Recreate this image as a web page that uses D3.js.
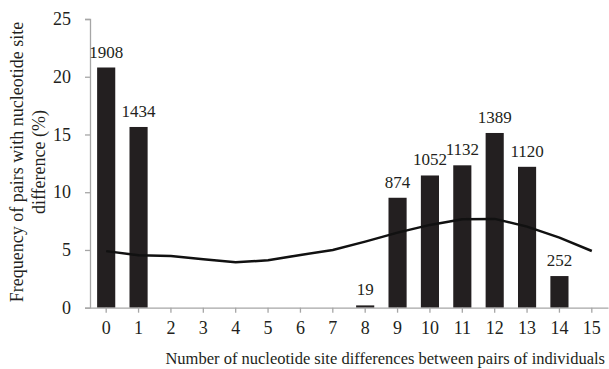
<!DOCTYPE html>
<html>
<head>
<meta charset="utf-8">
<script src="https://cdn.jsdelivr.net/npm/d3@7"></script>
<style>
  html, body { margin: 0; padding: 0; background: #fff; }
  text { font-family: "Liberation Serif", "Times New Roman", serif; fill: #231f20; }
</style>
</head>
<body>
<div id="chart"></div>
<script>
// number of nucleotide site differences
const categories = d3.range(0, 16);
const observed = [20.8, 15.65, 0, 0, 0, 0, 0, 0, 0.2, 9.52, 11.45, 12.33, 15.13, 12.2, 2.74, 0];
// pair counts printed above bars ("" = no label)
const counts = ["1908", "1434", "", "", "", "", "", "", "19", "874", "1052", "1132", "1389", "1120", "252", ""];
// expected frequency (%) line
const expected = [4.9, 4.54, 4.48, 4.2, 3.93, 4.1, 4.57, 5.0, 5.72, 6.5, 7.17, 7.66, 7.69, 7.02, 6.07, 4.91];
const yTicks = [0, 5, 10, 15, 20, 25];

const width = 609, height = 369;
const margin = {top: 19, right: 1, bottom: 61, left: 90};

const svg = d3.select("#chart")
  .append("svg")
  .attr("width", width)
  .attr("height", height);

const x = d3.scaleBand()
  .domain(categories)
  .range([margin.left, width - margin.right])
  .paddingInner(0.44)
  .paddingOuter(0.22);

const y = d3.scaleLinear().domain([0, 25]).range([height - margin.bottom - 0.3, margin.top]);

// shrink font until text fits the width seen in the picture
function fitText(sel, w, start) {
  let fs = start;
  sel.style("font-size", fs + "px");
  while (sel.node().getComputedTextLength() > w && fs > 8) {
    fs -= 0.25;
    sel.style("font-size", fs + "px");
  }
  return fs;
}

// Eixo vertical
const yAxis = svg.append("g")
  .attr("transform", "translate(" + margin.left + ",0)")
  .call(d3.axisLeft(y).tickValues(yTicks).tickSize(5).tickPadding(14));
yAxis.selectAll("text").style("font-size", "18px");

// bars
svg.append("g")
  .selectAll("rect")
  .data(categories.filter(c => observed[c] > 0))
  .join("rect")
    .attr("fill", "#231f20")
    .attr("x", c => x(c))
    .attr("y", c => y(observed[c]))
    .attr("width", x.bandwidth())
    .attr("height", c => y(0) - y(observed[c]));

// Eixo horizontal
const xAxis = svg.append("g")
  .attr("transform", "translate(0," + y(0) + ")")
  .call(d3.axisBottom(x).tickSize(5).tickSizeOuter(0).tickPadding(9));
xAxis.selectAll("text").style("font-size", "18px");

[yAxis, xAxis].forEach(g => {
  g.select(".domain").attr("stroke", "#a6a6a6").attr("stroke-width", 1.3);
  g.selectAll(".tick line").attr("stroke", "#a6a6a6").attr("stroke-width", 1.3);
});

// expected line
svg.append("path")
  .datum(categories)
  .attr("fill", "none")
  .attr("stroke", "#111")
  .attr("stroke-width", 2.5)
  .attr("d", d3.line()
    .x(c => x(c) + x.bandwidth() / 2)
    .y(c => y(expected[c])));

// count labels
svg.append("g")
  .selectAll("text")
  .data(categories.filter(c => counts[c] !== ""))
  .join("text")
    .attr("x", c => x(c) + x.bandwidth() / 2)
    .attr("y", c => y(observed[c]) - 10)
    .attr("text-anchor", "middle")
    .style("font-size", "17px")
    .text(c => counts[c]);

// axis titles
const xt = svg.append("text")
  .attr("x", 605)
  .attr("y", 364)
  .attr("text-anchor", "end")
  .text("Number of nucleotide site differences between pairs of individuals");
fitText(xt, 442, 18);

const yt = svg.append("text")
  .attr("transform", "translate(0,162) rotate(-90)")
  .attr("text-anchor", "middle");
const yt1 = yt.append("tspan").attr("x", 0).attr("y", 23).text("Frequency of pairs with nucleotide site");
yt.append("tspan").attr("x", 0).attr("y", 45).text("difference (%)");
yt.style("font-size", fitText(yt1, 294, 18) + "px");
yt1.style("font-size", null);
</script>
</body>
</html>
